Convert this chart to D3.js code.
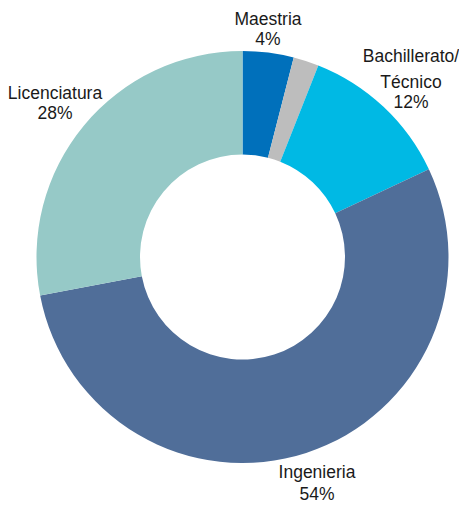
<!DOCTYPE html>
<html><head><meta charset="utf-8">
<script src="https://cdn.jsdelivr.net/npm/d3@7"></script>
<style>html,body{margin:0;padding:0;background:#fff;}svg{display:block;}</style>
</head><body>
<div id="chart"></div>
<script>
const categories = ["Maestria", "Otros", "Bachillerato/Técnico", "Ingenieria", "Licenciatura"];
const values = [4, 2, 12, 54, 28];
const colors = ["#0070BB", "#BDBDBD", "#00B9E4", "#506E99", "#96C9C7"];
const labelLines = [["Maestria", "4%"], [], ["Bachillerato/", "Técnico", "12%"], ["Ingenieria", "54%"], ["Licenciatura", "28%"]];

const W = 459, H = 508;
const cx = 242.5, cy = 257, rOuter = 206, rInner = 102.5;
// label anchor positions (layout only)
const labelPos = [[268, 25, 20], null, [411, 62, 23], [317, 478, 22], [55, 99, 20]];

const svg = d3.select("#chart").append("svg").attr("width", W).attr("height", H);
const data = categories.map((c, i) => ({cat: c, value: values[i], i}));
const pie = d3.pie().value(d => d.value).sort(null);
const arc = d3.arc().innerRadius(rInner).outerRadius(rOuter);
const g = svg.append("g").attr("transform", `translate(${cx},${cy})`);
g.selectAll("path").data(pie(data)).join("path")
  .attr("d", arc).attr("fill", d => colors[d.data.i]);

data.forEach((d, i) => {
  const p = labelPos[i];
  if (!p) return;
  const t = svg.append("text").attr("text-anchor", "middle")
    .attr("font-family", "Liberation Sans, Arial, sans-serif")
    .attr("font-size", 17.5).attr("fill", "#1a1a1a");
  labelLines[i].forEach((line, k) => {
    t.append("tspan").attr("x", p[0]).attr("y", p[1] + k * (i === 2 && k === 2 ? p[2] : (i===2 ? 26 : p[2]))).text(line);
  });
});
</script>
</body></html>
